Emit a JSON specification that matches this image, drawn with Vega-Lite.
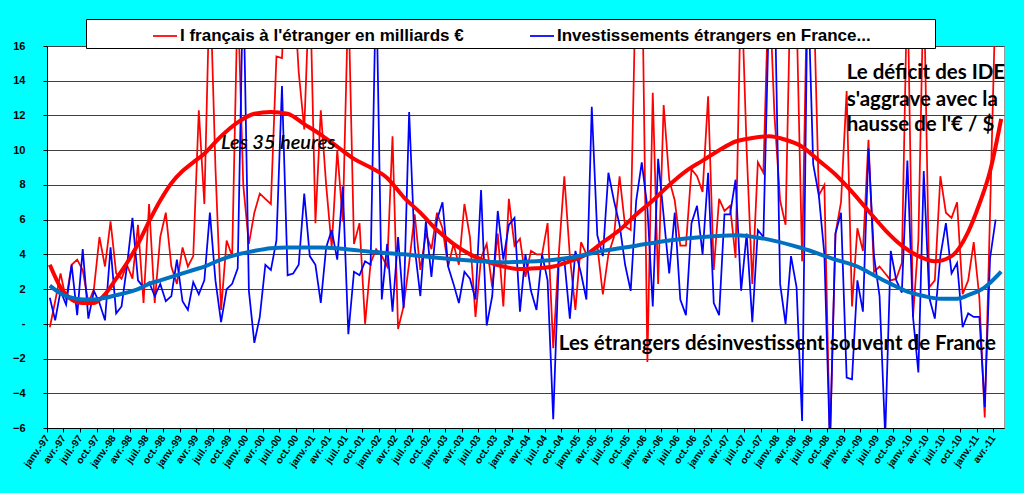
{
  "$schema": "https://vega.github.io/schema/vega-lite/v6.json",
  "width": 957,
  "height": 382,
  "autosize": {"type": "none"},
  "padding": {"left": 47, "top": 46, "right": 20, "bottom": 65},
  "background": "#00FFFF",
  "config": {
    "view": {"fill": "white", "stroke": "#9a9a9a"},
    "axis": {
      "labelFont": "Liberation Sans",
      "labelFontWeight": "bold",
      "labelColor": "black",
      "domainColor": "black",
      "tickColor": "black",
      "tickSize": 4,
      "title": null
    }
  },
  "datasets": {
    "mensuel": [
      {"mois": "1997-01", "I": -0.2, "E": 1.5}, {"mois": "1997-02", "I": 1.3, "E": 0.2},
      {"mois": "1997-03", "I": 2.9, "E": 1.9}, {"mois": "1997-04", "I": 1.4, "E": 1.1},
      {"mois": "1997-05", "I": 3.4, "E": 3.4}, {"mois": "1997-06", "I": 3.7, "E": 0.5},
      {"mois": "1997-07", "I": 3.1, "E": 4.3}, {"mois": "1997-08", "I": 1.2, "E": 0.3},
      {"mois": "1997-09", "I": 2.0, "E": 1.9}, {"mois": "1997-10", "I": 5.0, "E": 1.2},
      {"mois": "1997-11", "I": 3.3, "E": 0.2}, {"mois": "1997-12", "I": 5.9, "E": 4.4},
      {"mois": "1998-01", "I": 2.9, "E": 0.6}, {"mois": "1998-02", "I": 2.6, "E": 1.0},
      {"mois": "1998-03", "I": 3.4, "E": 3.3}, {"mois": "1998-04", "I": 2.6, "E": 6.1},
      {"mois": "1998-05", "I": 5.7, "E": 2.5}, {"mois": "1998-06", "I": 1.2, "E": 2.1},
      {"mois": "1998-07", "I": 6.9, "E": 2.4}, {"mois": "1998-08", "I": 1.2, "E": 1.6},
      {"mois": "1998-09", "I": 5.0, "E": 2.3}, {"mois": "1998-10", "I": 6.4, "E": 1.3},
      {"mois": "1998-11", "I": 3.3, "E": 1.6}, {"mois": "1998-12", "I": 2.3, "E": 3.7},
      {"mois": "1999-01", "I": 4.4, "E": 1.3}, {"mois": "1999-02", "I": 3.3, "E": 0.8},
      {"mois": "1999-03", "I": 3.9, "E": 2.4}, {"mois": "1999-04", "I": 12.3, "E": 1.7},
      {"mois": "1999-05", "I": 6.9, "E": 2.5}, {"mois": "1999-06", "I": 20, "E": 6.4},
      {"mois": "1999-07", "I": 9, "E": 2.5}, {"mois": "1999-08", "I": 0.8, "E": 0.1},
      {"mois": "1999-09", "I": 4.8, "E": 2.0}, {"mois": "1999-10", "I": 3.9, "E": 2.3},
      {"mois": "1999-11", "I": 19, "E": 3.2}, {"mois": "1999-12", "I": 8, "E": 20},
      {"mois": "2000-01", "I": 4.6, "E": 1.9}, {"mois": "2000-02", "I": 6.4, "E": -1.1},
      {"mois": "2000-03", "I": 7.5, "E": 0.4}, {"mois": "2000-04", "I": 7.2, "E": 3.4},
      {"mois": "2000-05", "I": 6.9, "E": 3.1}, {"mois": "2000-06", "I": 15.4, "E": 4.8},
      {"mois": "2000-07", "I": 15.3, "E": 13.7}, {"mois": "2000-08", "I": 22, "E": 2.8},
      {"mois": "2000-09", "I": 20, "E": 2.9}, {"mois": "2000-10", "I": 14.5, "E": 3.4},
      {"mois": "2000-11", "I": 11.2, "E": 7.5}, {"mois": "2000-12", "I": 20, "E": 3.9},
      {"mois": "2001-01", "I": 5.8, "E": 3.4}, {"mois": "2001-02", "I": 12.3, "E": 1.2},
      {"mois": "2001-03", "I": 8.0, "E": 4.4}, {"mois": "2001-04", "I": 4.4, "E": 5.4},
      {"mois": "2001-05", "I": 10.0, "E": 3.7}, {"mois": "2001-06", "I": 5.9, "E": 7.9},
      {"mois": "2001-07", "I": 19, "E": -0.6}, {"mois": "2001-08", "I": 4.6, "E": 3.0},
      {"mois": "2001-09", "I": 5.8, "E": 2.8}, {"mois": "2001-10", "I": 0.0, "E": 3.6},
      {"mois": "2001-11", "I": 3.5, "E": 3.4}, {"mois": "2001-12", "I": 4.3, "E": 20},
      {"mois": "2002-01", "I": 3.9, "E": 1.4}, {"mois": "2002-02", "I": 3.3, "E": 4.6},
      {"mois": "2002-03", "I": 10.8, "E": 0.7}, {"mois": "2002-04", "I": -0.3, "E": 5.0},
      {"mois": "2002-05", "I": 1.0, "E": 0.9}, {"mois": "2002-06", "I": 3.5, "E": 12.2},
      {"mois": "2002-07", "I": 6.3, "E": 4.4}, {"mois": "2002-08", "I": 3.1, "E": 1.6},
      {"mois": "2002-09", "I": 5.2, "E": 5.9}, {"mois": "2002-10", "I": 4.3, "E": 2.7},
      {"mois": "2002-11", "I": 6.4, "E": 6.0}, {"mois": "2002-12", "I": 5.5, "E": 7.0},
      {"mois": "2003-01", "I": 3.3, "E": 3.3}, {"mois": "2003-02", "I": 4.6, "E": 2.3},
      {"mois": "2003-03", "I": 3.4, "E": 1.2}, {"mois": "2003-04", "I": 6.9, "E": 3.0},
      {"mois": "2003-05", "I": 5.0, "E": 2.6}, {"mois": "2003-06", "I": 0.4, "E": 1.4},
      {"mois": "2003-07", "I": 3.8, "E": 7.7}, {"mois": "2003-08", "I": 4.6, "E": -0.1},
      {"mois": "2003-09", "I": 2.1, "E": 1.6}, {"mois": "2003-10", "I": 5.2, "E": 6.5},
      {"mois": "2003-11", "I": 1.0, "E": 3.7}, {"mois": "2003-12", "I": 7.2, "E": 5.7},
      {"mois": "2004-01", "I": 4.5, "E": 6.1}, {"mois": "2004-02", "I": 4.9, "E": 0.7},
      {"mois": "2004-03", "I": 2.7, "E": 4.0}, {"mois": "2004-04", "I": 4.2, "E": 1.9},
      {"mois": "2004-05", "I": 4.0, "E": 0.8}, {"mois": "2004-06", "I": 4.0, "E": 4.0},
      {"mois": "2004-07", "I": 5.8, "E": 2.5}, {"mois": "2004-08", "I": -1.4, "E": -5.5},
      {"mois": "2004-09", "I": 4.0, "E": 3.6}, {"mois": "2004-10", "I": 8.5, "E": 3.7},
      {"mois": "2004-11", "I": 3.9, "E": 0.3}, {"mois": "2004-12", "I": 0.8, "E": 4.2},
      {"mois": "2005-01", "I": 4.7, "E": 2.9}, {"mois": "2005-02", "I": 4.0, "E": 1.4},
      {"mois": "2005-03", "I": 4.2, "E": 12.5}, {"mois": "2005-04", "I": 4.5, "E": 5.1},
      {"mois": "2005-05", "I": 1.7, "E": 3.9}, {"mois": "2005-06", "I": 4.0, "E": 8.7},
      {"mois": "2005-07", "I": 5.0, "E": 7.1}, {"mois": "2005-08", "I": 8.5, "E": 5.7},
      {"mois": "2005-09", "I": 5.6, "E": 3.4}, {"mois": "2005-10", "I": 5.4, "E": 1.9},
      {"mois": "2005-11", "I": 21, "E": 7.1}, {"mois": "2005-12", "I": 22, "E": 9.3},
      {"mois": "2006-01", "I": -2.2, "E": 6.7}, {"mois": "2006-02", "I": 13.3, "E": 1.0},
      {"mois": "2006-03", "I": 2.3, "E": 9.5}, {"mois": "2006-04", "I": 12.6, "E": 6.2},
      {"mois": "2006-05", "I": 8.3, "E": 2.9}, {"mois": "2006-06", "I": 7.1, "E": 6.4},
      {"mois": "2006-07", "I": 4.5, "E": 1.4}, {"mois": "2006-08", "I": 4.5, "E": 0.5},
      {"mois": "2006-09", "I": 8.9, "E": 5.8}, {"mois": "2006-10", "I": 8.5, "E": 6.8},
      {"mois": "2006-11", "I": 7.6, "E": 4.0}, {"mois": "2006-12", "I": 13.1, "E": 8.7},
      {"mois": "2007-01", "I": 3.1, "E": 1.2}, {"mois": "2007-02", "I": 7.2, "E": 0.5},
      {"mois": "2007-03", "I": 6.5, "E": 6.3}, {"mois": "2007-04", "I": 6.8, "E": 6.3},
      {"mois": "2007-05", "I": 3.8, "E": 8.3}, {"mois": "2007-06", "I": 20, "E": 1.9},
      {"mois": "2007-07", "I": 10, "E": 5.2}, {"mois": "2007-08", "I": 2.3, "E": 0.1},
      {"mois": "2007-09", "I": 9.3, "E": 5.4}, {"mois": "2007-10", "I": 8.7, "E": 5.0},
      {"mois": "2007-11", "I": 20, "E": 18}, {"mois": "2007-12", "I": 12, "E": 20},
      {"mois": "2008-01", "I": 7.1, "E": 2.3}, {"mois": "2008-02", "I": 5.7, "E": 0.0},
      {"mois": "2008-03", "I": 21, "E": 3.9}, {"mois": "2008-04", "I": 18, "E": 2.1},
      {"mois": "2008-05", "I": 3.6, "E": -5.6}, {"mois": "2008-06", "I": 21, "E": 20},
      {"mois": "2008-07", "I": 20, "E": 9.2}, {"mois": "2008-08", "I": 7.4, "E": 7.4},
      {"mois": "2008-09", "I": 8.0, "E": 4.0}, {"mois": "2008-10", "I": -7, "E": -7},
      {"mois": "2008-11", "I": 5.2, "E": 5.2}, {"mois": "2008-12", "I": 7.0, "E": 6.4},
      {"mois": "2009-01", "I": 13.4, "E": -3.1}, {"mois": "2009-02", "I": 1.0, "E": -3.2},
      {"mois": "2009-03", "I": 5.5, "E": 2.5}, {"mois": "2009-04", "I": 4.2, "E": 0.7},
      {"mois": "2009-05", "I": 10.6, "E": 10.1}, {"mois": "2009-06", "I": 3.0, "E": 3.9},
      {"mois": "2009-07", "I": 3.3, "E": 1.6}, {"mois": "2009-08", "I": 2.9, "E": -6.5},
      {"mois": "2009-09", "I": 2.5, "E": 4.2}, {"mois": "2009-10", "I": 2.6, "E": 2.5},
      {"mois": "2009-11", "I": 3.5, "E": 1.8}, {"mois": "2009-12", "I": 20, "E": 9.4},
      {"mois": "2010-01", "I": 0.4, "E": 0.4}, {"mois": "2010-02", "I": 4.8, "E": -2.8},
      {"mois": "2010-03", "I": 20, "E": 8.8}, {"mois": "2010-04", "I": 2.1, "E": 1.5},
      {"mois": "2010-05", "I": 2.5, "E": 0.3}, {"mois": "2010-06", "I": 8.5, "E": 3.9},
      {"mois": "2010-07", "I": 6.4, "E": 5.8}, {"mois": "2010-08", "I": 6.1, "E": 2.9},
      {"mois": "2010-09", "I": 7.0, "E": 3.5}, {"mois": "2010-10", "I": 1.7, "E": -0.2},
      {"mois": "2010-11", "I": 2.5, "E": 0.6}, {"mois": "2010-12", "I": 4.7, "E": 0.4},
      {"mois": "2011-01", "I": 1.5, "E": 0.4}, {"mois": "2011-02", "I": -5.4, "E": -4.8},
      {"mois": "2011-03", "I": 6.5, "E": 3.8}, {"mois": "2011-04", "I": 19, "E": 6.0}
    ],
    "tendanceI": [
      {"mois": "1997-01", "valeur": 3.4}, {"mois": "1997-03", "valeur": 2.1},
      {"mois": "1997-05", "valeur": 1.4}, {"mois": "1997-07", "valeur": 1.2},
      {"mois": "1997-09", "valeur": 1.2}, {"mois": "1997-11", "valeur": 1.7},
      {"mois": "1998-01", "valeur": 2.6}, {"mois": "1998-03", "valeur": 3.5},
      {"mois": "1998-05", "valeur": 4.6}, {"mois": "1998-07", "valeur": 5.9},
      {"mois": "1998-09", "valeur": 7.1}, {"mois": "1998-11", "valeur": 8.1},
      {"mois": "1999-01", "valeur": 8.8}, {"mois": "1999-03", "valeur": 9.3},
      {"mois": "1999-05", "valeur": 9.8}, {"mois": "1999-08", "valeur": 10.8},
      {"mois": "1999-11", "valeur": 11.6}, {"mois": "2000-02", "valeur": 12.1},
      {"mois": "2000-05", "valeur": 12.2}, {"mois": "2000-08", "valeur": 12.1},
      {"mois": "2000-11", "valeur": 11.5}, {"mois": "2001-02", "valeur": 10.9},
      {"mois": "2001-05", "valeur": 10.2}, {"mois": "2001-08", "valeur": 9.5},
      {"mois": "2001-11", "valeur": 9.0}, {"mois": "2002-02", "valeur": 8.4},
      {"mois": "2002-05", "valeur": 7.3}, {"mois": "2002-08", "valeur": 6.4},
      {"mois": "2002-11", "valeur": 5.4}, {"mois": "2003-02", "valeur": 4.6},
      {"mois": "2003-05", "valeur": 4.0}, {"mois": "2003-08", "valeur": 3.6},
      {"mois": "2003-11", "valeur": 3.3}, {"mois": "2004-02", "valeur": 3.15},
      {"mois": "2004-05", "valeur": 3.2}, {"mois": "2004-08", "valeur": 3.3},
      {"mois": "2004-11", "valeur": 3.6}, {"mois": "2005-02", "valeur": 4.0},
      {"mois": "2005-05", "valeur": 4.7}, {"mois": "2005-08", "valeur": 5.4},
      {"mois": "2005-11", "valeur": 6.3}, {"mois": "2006-02", "valeur": 7.1},
      {"mois": "2006-05", "valeur": 8.0}, {"mois": "2006-08", "valeur": 8.8},
      {"mois": "2006-11", "valeur": 9.4}, {"mois": "2007-02", "valeur": 10.0},
      {"mois": "2007-05", "valeur": 10.5}, {"mois": "2007-08", "valeur": 10.7},
      {"mois": "2007-11", "valeur": 10.8}, {"mois": "2008-02", "valeur": 10.6},
      {"mois": "2008-05", "valeur": 10.2}, {"mois": "2008-08", "valeur": 9.4},
      {"mois": "2008-11", "valeur": 8.6}, {"mois": "2009-02", "valeur": 7.6},
      {"mois": "2009-05", "valeur": 6.5}, {"mois": "2009-08", "valeur": 5.4},
      {"mois": "2009-11", "valeur": 4.5}, {"mois": "2010-02", "valeur": 3.9},
      {"mois": "2010-05", "valeur": 3.6}, {"mois": "2010-08", "valeur": 3.9},
      {"mois": "2010-11", "valeur": 5.3}, {"mois": "2011-01", "valeur": 6.9},
      {"mois": "2011-03", "valeur": 8.8}, {"mois": "2011-05", "valeur": 11.8}
    ],
    "tendanceE": [
      {"mois": "1997-01", "valeur": 2.2}, {"mois": "1997-03", "valeur": 1.75},
      {"mois": "1997-05", "valeur": 1.5}, {"mois": "1997-07", "valeur": 1.4},
      {"mois": "1997-09", "valeur": 1.4}, {"mois": "1997-11", "valeur": 1.5},
      {"mois": "1998-01", "valeur": 1.65}, {"mois": "1998-03", "valeur": 1.8},
      {"mois": "1998-05", "valeur": 2.0}, {"mois": "1998-07", "valeur": 2.3},
      {"mois": "1998-09", "valeur": 2.5}, {"mois": "1998-11", "valeur": 2.7},
      {"mois": "1999-01", "valeur": 2.9}, {"mois": "1999-03", "valeur": 3.1},
      {"mois": "1999-05", "valeur": 3.3}, {"mois": "1999-08", "valeur": 3.7},
      {"mois": "1999-11", "valeur": 4.0}, {"mois": "2000-02", "valeur": 4.2},
      {"mois": "2000-05", "valeur": 4.35}, {"mois": "2000-08", "valeur": 4.4},
      {"mois": "2000-11", "valeur": 4.4}, {"mois": "2001-02", "valeur": 4.4},
      {"mois": "2001-05", "valeur": 4.35}, {"mois": "2001-08", "valeur": 4.25},
      {"mois": "2001-11", "valeur": 4.15}, {"mois": "2002-05", "valeur": 4.0},
      {"mois": "2002-11", "valeur": 3.8}, {"mois": "2003-05", "valeur": 3.65},
      {"mois": "2003-11", "valeur": 3.55}, {"mois": "2004-05", "valeur": 3.6},
      {"mois": "2004-11", "valeur": 3.8}, {"mois": "2005-05", "valeur": 4.2},
      {"mois": "2005-11", "valeur": 4.5}, {"mois": "2006-05", "valeur": 4.8},
      {"mois": "2006-11", "valeur": 5.0}, {"mois": "2007-05", "valeur": 5.1},
      {"mois": "2007-11", "valeur": 4.85}, {"mois": "2008-05", "valeur": 4.35},
      {"mois": "2008-11", "valeur": 3.7}, {"mois": "2009-03", "valeur": 3.3},
      {"mois": "2009-06", "valeur": 2.8}, {"mois": "2009-09", "valeur": 2.3},
      {"mois": "2009-12", "valeur": 1.85}, {"mois": "2010-03", "valeur": 1.6},
      {"mois": "2010-06", "valeur": 1.45}, {"mois": "2010-09", "valeur": 1.45},
      {"mois": "2010-11", "valeur": 1.65}, {"mois": "2011-02", "valeur": 2.1},
      {"mois": "2011-05", "valeur": 3.0}
    ],
    "notes": [
      {"mois": "1999-08", "valeur": 10.4, "texte": "Les 35 heures", "style": "italique"},
      {"mois": "2004-09", "valeur": -1.15, "texte": "Les étrangers désinvestissent souvent de France", "style": "gras"},
      {"mois": "2009-01", "valeur": 14.45, "texte": "Le déficit des IDE", "style": "gras"},
      {"mois": "2009-01", "valeur": 12.9, "texte": "s'aggrave avec la", "style": "gras"},
      {"mois": "2009-01", "valeur": 11.45, "texte": "hausse de l'€ / $", "style": "gras"}
    ]
  },
  "layer": [
    {
      "data": {"name": "mensuel"},
      "transform": [{"fold": ["I", "E"], "as": ["serie", "valeur"]}],
      "mark": {"type": "line", "strokeWidth": 1.75, "clip": true},
      "encoding": {
        "x": {
          "field": "mois", "timeUnit": "utcyearmonth", "type": "temporal", "bandPosition": 0.5,
          "scale": {"type": "utc", "domain": [{"year": 1997, "month": 1, "date": 1, "utc": true}, {"year": 2011, "month": 6, "date": 1, "utc": true}]},
          "axis": {
            "grid": false,
            "tickCount": {"interval": "month", "step": 3},
            "labelExpr": "['janv.','févr.','mars','avr.','mai','juin','juil.','août','sept.','oct.','nov.','déc.'][utcmonth(datum.value)] + '-' + utcFormat(datum.value, '%y')",
            "labelAngle": -55,
            "labelAlign": "right",
            "labelBaseline": "middle",
            "labelFontSize": 10,
            "labelPadding": 4,
            "labelOverlap": false,
            "labelFlush": false
          }
        },
        "y": {
          "field": "valeur", "type": "quantitative",
          "scale": {"domain": [-6, 16], "nice": false, "zero": false},
          "axis": {
            "values": [-6, -4, -2, 0, 2, 4, 6, 8, 10, 12, 14, 16],
            "tickCount": 12,
            "labelOverlap": false,
            "labelExpr": "datum.value == 0 ? '-' : datum.label",
            "labelFontSize": 11,
            "labelPadding": 18,
            "grid": true,
            "gridColor": "#404040",
            "gridWidth": 1
          }
        },
        "color": {
          "field": "serie", "type": "nominal",
          "scale": {"domain": ["I", "E"], "range": ["#FF0000", "#0000FF"]},
          "legend": {
            "title": null,
            "orient": "none",
            "legendX": 39,
            "legendY": -27,
            "direction": "horizontal",
            "fillColor": "white",
            "strokeColor": "black",
            "padding": 4,
            "symbolType": "stroke",
            "symbolSize": 576,
            "symbolStrokeWidth": 1.75,
            "symbolOffset": 62,
            "labelOffset": 2,
            "columnPadding": 3,
            "labelFont": "Liberation Sans",
            "labelFontSize": 17,
            "labelFontWeight": "bold",
            "labelColor": "black",
            "labelLimit": 800,
            "labelExpr": "datum.label == 'I' ? \"I français à l'étranger en milliards €\" : 'Investissements étrangers en France...\u2800\u2800\u2800\u2800\u2800'"
          }
        }
      }
    },
    {
      "data": {"name": "tendanceI"},
      "mark": {"type": "line", "color": "#FF0000", "strokeWidth": 4, "interpolate": "monotone", "clip": true},
      "encoding": {
        "x": {"field": "mois", "timeUnit": "utcyearmonth", "type": "temporal", "bandPosition": 0.5},
        "y": {"field": "valeur", "type": "quantitative"}
      }
    },
    {
      "data": {"name": "tendanceE"},
      "mark": {"type": "line", "color": "#0070C0", "strokeWidth": 4, "interpolate": "monotone", "clip": true},
      "encoding": {
        "x": {"field": "mois", "timeUnit": "utcyearmonth", "type": "temporal", "bandPosition": 0.5},
        "y": {"field": "valeur", "type": "quantitative"}
      }
    },
    {
      "data": {"name": "notes"},
      "transform": [{"filter": "datum.style == 'italique'"}],
      "mark": {"type": "text", "align": "left", "baseline": "middle", "font": "Lato", "fontSize": 20, "fontStyle": "italic", "fontWeight": 600, "color": "black"},
      "encoding": {
        "x": {"field": "mois", "timeUnit": "utcyearmonth", "type": "temporal", "bandPosition": 0.5},
        "y": {"field": "valeur", "type": "quantitative"},
        "text": {"field": "texte"}
      }
    },
    {
      "data": {"name": "notes"},
      "transform": [{"filter": "datum.style == 'gras'"}],
      "mark": {"type": "text", "align": "left", "baseline": "middle", "font": "Lato", "fontSize": 20.5, "fontWeight": "bold", "color": "black"},
      "encoding": {
        "x": {"field": "mois", "timeUnit": "utcyearmonth", "type": "temporal", "bandPosition": 0.5},
        "y": {"field": "valeur", "type": "quantitative"},
        "text": {"field": "texte"}
      }
    }
  ]
}
